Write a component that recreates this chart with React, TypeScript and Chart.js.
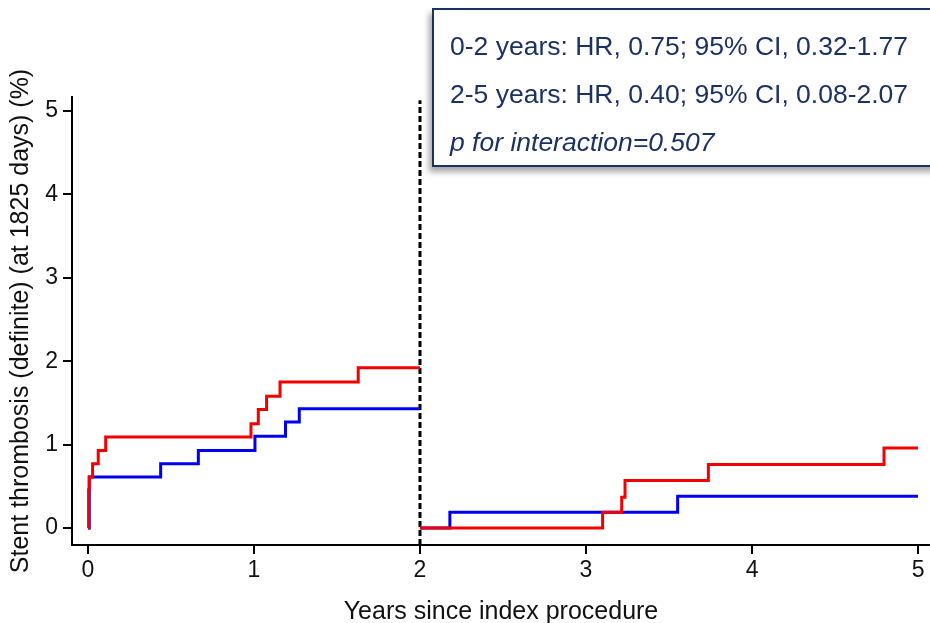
import React, { useEffect, useRef } from 'react';
import { Chart, registerables } from 'chart.js';

Chart.register(...registerables);

// Axis ticks
const X_TICKS = [0, 1, 2, 3, 4, 5];
const Y_TICKS = [0, 1, 2, 3, 4, 5];
const X_MIN = -0.096;
const X_MAX = 5.072;
const Y_MIN = -0.204;
const Y_MAX = 5.168;

// Landmark split between the two analysis windows
const LANDMARK_YEAR = 2;
const LANDMARK_TOP = 5.13;

// Cumulative incidence, 0–2 years
const RED_EARLY_YEARS = [0, 0.004, 0.008, 0.028, 0.062, 0.107, 0.982, 1.026, 1.076, 1.157, 1.628, 2.0];
const RED_EARLY_PCT = [0, 0.46, 0.61, 0.77, 0.93, 1.09, 1.25, 1.42, 1.58, 1.75, 1.92, 1.92];
const BLUE_EARLY_YEARS = [0, 0.008, 0.438, 0.665, 1.006, 1.19, 1.273, 2.0];
const BLUE_EARLY_PCT = [0, 0.61, 0.77, 0.93, 1.1, 1.27, 1.43, 1.43];

// Cumulative incidence, 2–5 years (restarted at the landmark)
const RED_LATE_YEARS = [2.0, 3.1, 3.215, 3.235, 3.737, 4.795, 5.0];
const RED_LATE_PCT = [0, 0.19, 0.37, 0.57, 0.76, 0.96, 0.96];
const BLUE_LATE_YEARS = [2.0, 2.18, 3.552, 5.0];
const BLUE_LATE_PCT = [0, 0.19, 0.38, 0.38];

const STATS_LINES = [
  '0-2 years: HR, 0.75; 95% CI, 0.32-1.77',
  '2-5 years: HR, 0.40; 95% CI, 0.08-2.07',
];
const INTERACTION_LINE = 'p for interaction=0.507';

const RED = 'rgb(245, 0, 0)';
const BLUE = 'rgb(0, 0, 240)';
const NAVY = '#1c3163';
const FONT = '"Liberation Sans", Arial, Helvetica, sans-serif';

const toPoints = (xs: number[], ys: number[]) => xs.map((x, i) => ({ x, y: ys[i] }));

const curve = (xs: number[], ys: number[], color: string) => ({
  data: toPoints(xs, ys),
  borderColor: color,
  backgroundColor: color,
  borderWidth: 3,
  stepped: 'before' as const,
  pointRadius: 0,
  fill: false,
  borderCapStyle: 'butt' as const,
});

export default function App() {
  const canvasRef = useRef<HTMLCanvasElement | null>(null);

  useEffect(() => {
    const canvas = canvasRef.current;
    if (!canvas) return;

    const chart = new Chart(canvas, {
      type: 'line',
      data: {
        datasets: [
          curve(RED_EARLY_YEARS, RED_EARLY_PCT, RED),
          curve(RED_LATE_YEARS, RED_LATE_PCT, RED),
          curve(BLUE_EARLY_YEARS, BLUE_EARLY_PCT, BLUE),
          curve(BLUE_LATE_YEARS, BLUE_LATE_PCT, BLUE),
          {
            // dashed landmark divider at 2 years
            data: [
              { x: LANDMARK_YEAR, y: Y_MIN },
              { x: LANDMARK_YEAR, y: LANDMARK_TOP },
            ],
            borderColor: '#000',
            backgroundColor: '#000',
            borderWidth: 3,
            borderDash: [6, 3],
            borderCapStyle: 'butt',
            pointRadius: 0,
            fill: false,
          },
        ],
      },
      options: {
        animation: false,
        responsive: true,
        maintainAspectRatio: false,
        devicePixelRatio: 1,
        layout: { padding: { top: 97, right: 0, bottom: 0, left: 0 } },
        plugins: {
          legend: { display: false },
          tooltip: { enabled: false },
        },
        scales: {
          x: {
            type: 'linear',
            min: X_MIN,
            max: X_MAX,
            afterBuildTicks: (scale: any) => {
              scale.ticks = X_TICKS.map((value) => ({ value }));
            },
            afterFit: (scale: any) => {
              scale.height = 78;
              scale.paddingLeft = 0;
              scale.paddingRight = 0;
            },
            grid: {
              drawOnChartArea: false,
              drawTicks: true,
              tickLength: 9,
              tickWidth: 2,
              tickColor: '#000',
              lineWidth: 2,
            },
            border: { display: true, color: '#000', width: 2 },
            ticks: {
              padding: 3,
              color: '#111',
              font: { family: FONT, size: 23 },
              maxRotation: 0,
              callback: (v: any) => String(v),
            },
            title: {
              display: true,
              text: 'Years since index procedure',
              color: '#111',
              font: { family: FONT, size: 25, lineHeight: 1 },
              padding: { top: 0, bottom: -2 },
            },
          },
          y: {
            type: 'linear',
            min: Y_MIN,
            max: Y_MAX,
            afterBuildTicks: (scale: any) => {
              scale.ticks = Y_TICKS.map((value) => ({ value }));
            },
            afterFit: (scale: any) => {
              scale.width = 72;
              scale.paddingTop = 0;
              scale.paddingBottom = 0;
            },
            grid: {
              drawOnChartArea: false,
              drawTicks: true,
              tickLength: 9,
              tickWidth: 2,
              tickColor: '#000',
              lineWidth: 2,
            },
            border: { display: true, color: '#000', width: 2 },
            ticks: {
              padding: 5,
              color: '#111',
              font: { family: FONT, size: 23 },
              callback: (v: any) => String(v),
            },
            title: {
              display: true,
              text: 'Stent thrombosis (definite) (at 1825 days) (%)',
              color: '#111',
              font: { family: FONT, size: 25, lineHeight: 1 },
              padding: { top: 9, bottom: 0 },
            },
          },
        },
      },
    } as any);

    return () => chart.destroy();
  }, []);

  return (
    <div
      style={{
        position: 'fixed',
        left: 0,
        top: 0,
        width: 930,
        height: 623,
        overflow: 'hidden',
        background: '#fff',
      }}
    >
      <canvas ref={canvasRef} style={{ display: 'block' }} />
      <div
        style={{
          position: 'absolute',
          left: 432,
          top: 8,
          width: 560,
          height: 159,
          boxSizing: 'border-box',
          border: `2px solid ${NAVY}`,
          background: '#fff',
          boxShadow: '-3px 5px 6px rgba(0,0,0,0.35)',
          padding: '12px 0 0 16px',
          fontFamily: FONT,
          fontSize: 26.5,
          lineHeight: '48px',
          color: NAVY,
          whiteSpace: 'nowrap',
        }}
      >
        {STATS_LINES.map((line) => (
          <div key={line}>{line}</div>
        ))}
        <div style={{ fontStyle: 'italic' }}>{INTERACTION_LINE}</div>
      </div>
    </div>
  );
}
